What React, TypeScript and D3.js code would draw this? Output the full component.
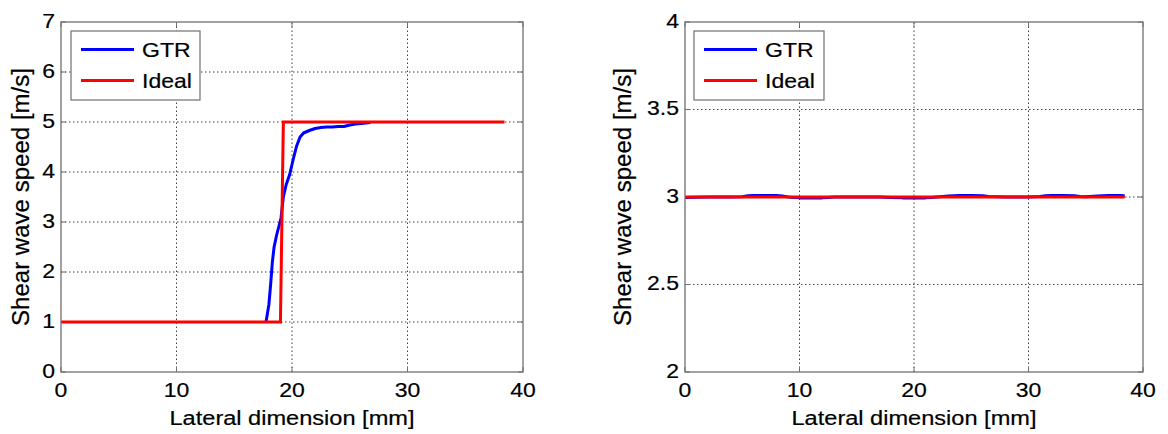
import React from "react";
import * as d3 from "d3";

// ---------- data ----------
const xTicks = [0, 10, 20, 30, 40];
const leftYTicks = [0, 1, 2, 3, 4, 5, 6, 7];
const rightYTicks = [2, 2.5, 3, 3.5, 4];
const rightYTickLabels = ["2", "2.5", "3", "3.5", "4"];

const seriesNames = ["GTR", "Ideal"];
const xLabel = "Lateral dimension [mm]";
const yLabel = "Shear wave speed [m/s]";

const leftGtrX = [17.75, 18.0, 18.15, 18.3, 18.45, 18.65, 18.85, 19.05, 19.25, 19.5, 19.8, 20.1, 20.4, 20.7, 21.0, 21.5, 22.0, 22.5, 23.0, 23.5, 24.0, 24.5, 25.0, 25.5, 26.0, 26.8];
const leftGtrY = [1.0, 1.35, 1.75, 2.2, 2.5, 2.72, 2.9, 3.08, 3.5, 3.75, 3.95, 4.25, 4.52, 4.7, 4.78, 4.83, 4.87, 4.89, 4.9, 4.9, 4.91, 4.91, 4.94, 4.96, 4.97, 4.99];
const leftIdealX = [0, 19.0, 19.25, 38.4];
const leftIdealY = [1, 1, 5, 5];

const rightGtrX = [0, 2, 4, 5, 5.5, 6, 7, 8, 8.5, 9, 10, 11, 12, 12.5, 13, 15, 17, 18, 19, 20, 21, 21.5, 22, 23, 24, 25, 26, 26.5, 28, 30, 31, 31.5, 32, 33, 34, 34.5, 35, 36, 37, 38, 38.4];
const rightGtrY = [2.997, 3.0, 3.0, 3.002, 3.007, 3.008, 3.008, 3.008, 3.006, 3.0, 2.995, 2.995, 2.995, 2.997, 3.0, 3.0, 3.0, 2.997, 2.995, 2.995, 2.995, 2.997, 3.0, 3.006, 3.008, 3.008, 3.007, 3.003, 3.0, 3.0, 3.003, 3.007, 3.008, 3.008, 3.007, 3.003, 3.002, 3.006, 3.008, 3.008, 3.007];
const rightIdealX = [0, 38.4];
const rightIdealY = [3, 3];

// ---------- styles ----------
const FONT = "'Liberation Sans', Arial, Helvetica, sans-serif";
const FS = 20;
const SX = 1.15;
const BLUE = "#0000ff";
const RED = "#ff0000";
const FRAME = "#707070";
const GRID = "#444";
const TSTROKE = 0.2;

type Panel = {
  x0: number; x1: number; y0: number; y1: number;
  yDomain: [number, number];
  yTicks: number[]; yTickLabels: string[];
  gtrX: number[]; gtrY: number[]; idealX: number[]; idealY: number[];
  legendX: number; legendW: number; yLabelX: number;
};

const panels: Panel[] = [
  {
    x0: 61, x1: 523, y0: 372, y1: 22, yDomain: [0, 7],
    yTicks: leftYTicks, yTickLabels: leftYTicks.map(String),
    gtrX: leftGtrX, gtrY: leftGtrY, idealX: leftIdealX, idealY: leftIdealY,
    legendX: 71, legendW: 129, yLabelX: 21,
  },
  {
    x0: 685, x1: 1143, y0: 372, y1: 22, yDomain: [2, 4],
    yTicks: rightYTicks, yTickLabels: rightYTickLabels,
    gtrX: rightGtrX, gtrY: rightGtrY, idealX: rightIdealX, idealY: rightIdealY,
    legendX: 694, legendW: 130, yLabelX: 623,
  },
];

function SText({ x, y, anchor, children }: { x: number; y: number; anchor: string; children: React.ReactNode }) {
  return (
    <text transform={`translate(${x},${y}) scale(${SX},1)`} textAnchor={anchor} fontFamily={FONT} fontSize={FS}
      fill="#000" stroke="#000" strokeWidth={TSTROKE}>
      {children}
    </text>
  );
}

function PanelView({ p }: { p: Panel }) {
  const x = d3.scaleLinear().domain([0, 40]).range([p.x0, p.x1]);
  const y = d3.scaleLinear().domain(p.yDomain).range([p.y0, p.y1]);
  const line = d3.line<[number, number]>().x((d) => x(d[0])).y((d) => y(d[1]));
  const gtr = line(p.gtrX.map((v, i) => [v, p.gtrY[i]] as [number, number])) || "";
  const ideal = line(p.idealX.map((v, i) => [v, p.idealY[i]] as [number, number])) || "";
  const tl = 5;
  const innerX = xTicks.filter((t) => t > 0 && t < 40);
  const innerY = p.yTicks.filter((t) => t > p.yDomain[0] && t < p.yDomain[1]);
  const ly = 31;
  const lh = 69;
  return (
    <g>
      {/* grid */}
      {innerX.map((t) => (
        <line key={"gx" + t} x1={x(t)} x2={x(t)} y1={p.y0} y2={p.y1} stroke={GRID} strokeWidth={1} strokeDasharray="1.5,2.5" />
      ))}
      {innerY.map((t) => (
        <line key={"gy" + t} x1={p.x0} x2={p.x1} y1={y(t)} y2={y(t)} stroke={GRID} strokeWidth={1} strokeDasharray="1.5,2.5" />
      ))}
      {/* ticks */}
      {xTicks.map((t) => (
        <g key={"tx" + t}>
          <line x1={x(t)} x2={x(t)} y1={p.y0} y2={p.y0 - tl} stroke={FRAME} />
          <line x1={x(t)} x2={x(t)} y1={p.y1} y2={p.y1 + tl} stroke={FRAME} />
        </g>
      ))}
      {p.yTicks.map((t) => (
        <g key={"ty" + t}>
          <line x1={p.x0} x2={p.x0 + tl} y1={y(t)} y2={y(t)} stroke={FRAME} />
          <line x1={p.x1} x2={p.x1 - tl} y1={y(t)} y2={y(t)} stroke={FRAME} />
        </g>
      ))}
      {/* series */}
      <path d={gtr} fill="none" stroke={BLUE} strokeWidth={3} strokeLinejoin="round" />
      <path d={ideal} fill="none" stroke={RED} strokeWidth={3} strokeLinejoin="miter" />
      {/* frame */}
      <rect x={p.x0} y={p.y1} width={p.x1 - p.x0} height={p.y0 - p.y1} fill="none" stroke={FRAME} strokeWidth={1.3} />
      {/* tick labels */}
      {xTicks.map((t) => (
        <SText key={"lx" + t} x={x(t)} y={397} anchor="middle">{String(t)}</SText>
      ))}
      {p.yTicks.map((t, i) => (
        <SText key={"ly" + t} x={p.x0 - 6} y={y(t) + 5.5} anchor="end">{p.yTickLabels[i]}</SText>
      ))}
      {/* axis labels */}
      <text
        transform={`translate(${(p.x0 + p.x1) / 2},425)`}
        textAnchor="middle" fontFamily={FONT} fontSize={20} textLength={245} lengthAdjust="spacingAndGlyphs"
        stroke="#000" strokeWidth={TSTROKE}
      >{xLabel}</text>
      <text
        transform={`translate(${p.yLabelX},${(p.y0 + p.y1) / 2}) rotate(-90)`}
        textAnchor="middle" dy="0.36em" fontFamily={FONT} fontSize={23.5} textLength={258} lengthAdjust="spacingAndGlyphs"
        stroke="#000" strokeWidth={TSTROKE}
      >{yLabel}</text>
      {/* legend */}
      <rect x={p.legendX} y={ly} width={p.legendW} height={lh} fill="#fff" stroke={FRAME} strokeWidth={1.2} />
      {seriesNames.map((name, i) => {
        const cy = 49.5 + i * 31;
        return (
          <g key={name}>
            <line x1={p.legendX + 10} x2={p.legendX + 63} y1={cy} y2={cy} stroke={i === 0 ? BLUE : RED} strokeWidth={3} />
            <SText x={p.legendX + 71} y={cy + 7} anchor="start">{name}</SText>
          </g>
        );
      })}
    </g>
  );
}

export default function App() {
  return (
    <svg width={1168} height={434} style={{ position: "absolute", left: 0, top: 0, background: "#fff" }}>
      <rect x={0} y={0} width={1168} height={434} fill="#fff" />
      {panels.map((p, i) => (
        <PanelView key={i} p={p} />
      ))}
    </svg>
  );
}
